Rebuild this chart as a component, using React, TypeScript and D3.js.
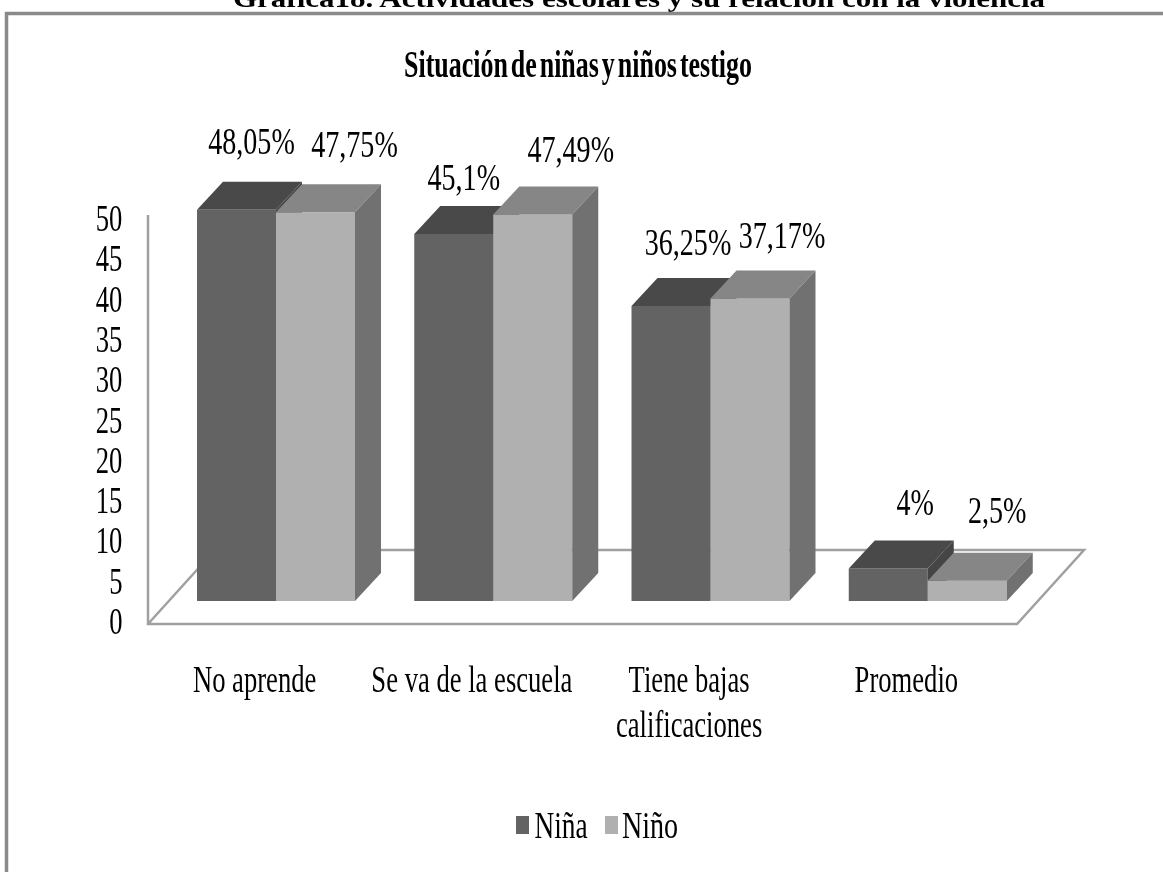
import React from "react";
import * as d3 from "d3";

const categories = ["No aprende", "Se va de la escuela", "Tiene bajas|calificaciones", "Promedio"];
const seriesNames = ["Niña", "Niño"];
const nina = [48.05, 45.1, 36.25, 4];
const nino = [47.75, 47.49, 37.17, 2.5];
const ninaLabels = ["48,05%", "45,1%", "36,25%", "4%"];
const ninoLabels = ["47,75%", "47,49%", "37,17%", "2,5%"];
const yTicks = [0, 5, 10, 15, 20, 25, 30, 35, 40, 45, 50];

// label nudges relative to the top of each bar (layout, not data)
const ninaNudge: [number, number][] = [[15, -56], [10, -44], [17, -51], [27, -53]];
const ninoNudge: [number, number][] = [[39, -55], [38, -52], [32, -50], [30, -58]];

const FONT = "'Liberation Serif', 'Times New Roman', serif";
const W = 1163, H = 872;
const DX = 26, DY = 28;
const LINE = "#a0a0a0";
const fronts = ["#636363", "#b0b0b0"];
const tops = ["#4a4a4a", "#868686"];
const sides = ["#454545", "#717171"];

const floor = { x0: 148, x1: 1017, yFront: 624, yBack: 550, dx: 67 };
const band = d3.scaleBand<string>().domain(categories).range([floor.x0, floor.x1]);
const inner = d3.scaleBand<string>().domain(seriesNames).range([49, 207]);
const yBar = d3.scaleLinear().domain([0, 50]).range([601, 194]);
const yLabel = d3.scaleLinear().domain([0, 50]).range([634, 231]);
const poly = d3.line<[number, number]>();

function T({ x, y, s, size = 37, sx = 0.72, bold = false }: any) {
  return (
    <text
      transform={`translate(${x},${y}) scale(${sx},1)`}
      textAnchor="middle"
      fontFamily={FONT}
      fontSize={size}
      fontWeight={bold ? 700 : 400}
      fill="#000"
    >
      {s}
    </text>
  );
}

function Bar({ x, w, v, i }: { x: number; w: number; v: number; i: number }) {
  const y0 = yBar(0), y1 = yBar(v);
  return (
    <g>
      <rect x={x} y={y1} width={w} height={y0 - y1} fill={fronts[i]} />
      <path
        d={poly([[x, y1], [x + DX, y1 - DY], [x + w + DX, y1 - DY], [x + w, y1]])! + "Z"}
        fill={tops[i]}
      />
      <path
        d={poly([[x + w, y1], [x + w + DX, y1 - DY], [x + w + DX, y0 - DY], [x + w, y0]])! + "Z"}
        fill={sides[i]}
      />
    </g>
  );
}

export default function App() {
  return (
    <svg
      width={W}
      height={H}
      viewBox={`0 0 ${W} ${H}`}
      style={{ position: "absolute", left: 0, top: 0, background: "#fff" }}
    >
      <defs>
        <filter id="soft" x="-2%" y="-2%" width="104%" height="104%">
          <feGaussianBlur stdDeviation="0.45" />
        </filter>
      </defs>
      <g filter="url(#soft)">
        <text
          x={639}
          y={7}
          textAnchor="middle"
          fontFamily={FONT}
          fontWeight={700}
          fontSize={25}
          textLength={812}
          lengthAdjust="spacingAndGlyphs"
        >
          Gráfica18. Actividades escolares y su relación con la violencia
        </text>
        <path d={`M1163,13.5H6.5V${H}`} fill="none" stroke="#8a8a8a" strokeWidth={3.5} />
        <text
          x={578}
          y={77}
          textAnchor="middle"
          fontFamily={FONT}
          fontWeight={700}
          fontSize={37}
          wordSpacing={-5}
          textLength={348}
          lengthAdjust="spacingAndGlyphs"
        >
          Situación de niñas y niños testigo
        </text>

        {/* floor and axis */}
        <path
          d={`M${floor.x0},215V${floor.yFront}H${floor.x1}L${floor.x1 + floor.dx},${floor.yBack}H${floor.x0 + floor.dx}L${floor.x0},${floor.yFront}`}
          fill="none"
          stroke={LINE}
          strokeWidth={2.5}
        />
        {yTicks.map((t) => (
          <T key={t} x={t < 10 ? 116 : 109} y={yLabel(t)} s={String(t)} />
        ))}

        {/* bars */}
        {categories.map((c, k) => {
          const x = band(c)!;
          return (
            <g key={c}>
              <Bar x={x + inner("Niña")!} w={inner.bandwidth()} v={nina[k]} i={0} />
              <Bar x={x + inner("Niño")!} w={inner.bandwidth()} v={nino[k]} i={1} />
            </g>
          );
        })}

        {/* data labels */}
        {categories.map((c, k) => {
          const x = band(c)!;
          const w = inner.bandwidth();
          return (
            <g key={c}>
              <T
                x={x + inner("Niña")! + w / 2 + ninaNudge[k][0]}
                y={yBar(nina[k]) + ninaNudge[k][1]}
                s={ninaLabels[k]}
                sx={0.76}
              />
              <T
                x={x + inner("Niño")! + w / 2 + ninoNudge[k][0]}
                y={yBar(nino[k]) + ninoNudge[k][1]}
                s={ninoLabels[k]}
                sx={0.76}
              />
            </g>
          );
        })}

        {/* category labels */}
        {categories.map((c) => {
          const cx = band(c)! + band.bandwidth() / 2 - 2;
          return c.split("|").map((line, j) => (
            <T key={line} x={cx} y={692 + j * 45} s={line} />
          ));
        })}

        {/* legend */}
        <rect x={516} y={816} width={13} height={18} fill={fronts[0]} />
        <T x={561} y={838} s={seriesNames[0]} sx={0.74} />
        <rect x={605} y={816} width={13} height={18} fill={fronts[1]} />
        <T x={650} y={838} s={seriesNames[1]} sx={0.76} />
      </g>
    </svg>
  );
}
